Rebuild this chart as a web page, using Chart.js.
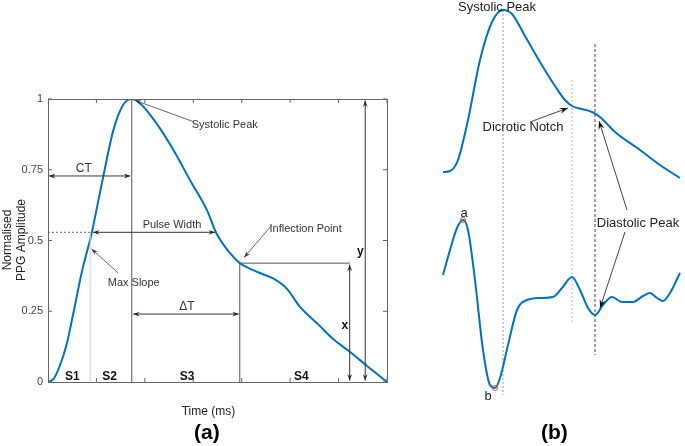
<!DOCTYPE html>
<html><head><meta charset="utf-8">
<script src="https://cdn.jsdelivr.net/npm/chart.js@4/dist/chart.umd.min.js"></script>
<style>
body{margin:0;background:#fff;width:685px;height:446px;position:relative;overflow:hidden;font-family:"Liberation Sans",Arial,sans-serif}
#ca{position:absolute;left:0;top:0}
#cb{position:absolute;left:430px;top:0}
.lab{position:absolute;font-weight:bold;font-size:21px;color:#000}
</style></head><body>
<canvas id="ca" width="430" height="446"></canvas>
<canvas id="cb" width="255" height="446"></canvas>
<div class="lab" style="left:194px;top:420px">(a)</div>
<div class="lab" style="left:541px;top:420px">(b)</div>
<script>
// Panel (a): normalised PPG pulse
const timeMs = [0,12,25,38,52,70,90,111,135,155,173,190,224,259,293,328,348,376,396,420,445,465,493,520,560,590,623,660,700];
const ppg    = [0,0.012,0.06,0.13,0.24,0.39,0.525,0.70,0.89,0.979,1.0,0.985,0.914,0.82,0.714,0.608,0.525,0.455,0.42,0.398,0.38,0.366,0.33,0.266,0.2,0.15,0.107,0.055,0];
const xTicks = [100,200,300,400,500,600,700];
const yTicks = [0,0.25,0.5,0.75,1];
// Panel (b): schematic PPG and its second derivative (no axes, drawing units)
const ppgBx = [443,450,458,468,480,492,503,512,525,540,555,565,572,582,592,600,615,640,660,680];
const ppgBy = [172,171,160,120,60,22,10,14,36,62,86,100,106,109,112,117,132,150,165,178];
const apgBx = [443,450,457,463,468,475,483,490,495,500,508,517,527,540,553,562,572,580,588,595,603,612,622,633,643,650,657,663,670,680];
const apgBy = [275,250,228,220,230,280,350,385,388,378,345,310,300,298,297,288,277,290,308,315,305,297,302,302,296,293,298,301,293,273];

const blue='rgb(0,114,189)';
const FONT='"Liberation Sans", Arial, sans-serif';

function arrowHead(ctx,x1,y1,x2,y2,size){
  const a=Math.atan2(y2-y1,x2-x1);
  ctx.beginPath();
  ctx.moveTo(x2,y2);
  ctx.lineTo(x2-size*Math.cos(a-0.35),y2-size*Math.sin(a-0.35));
  ctx.lineTo(x2-size*0.6*Math.cos(a),y2-size*0.6*Math.sin(a));
  ctx.lineTo(x2-size*Math.cos(a+0.35),y2-size*Math.sin(a+0.35));
  ctx.closePath();ctx.fill();
}
function arrow(ctx,x1,y1,x2,y2,both,size){
  ctx.beginPath();ctx.moveTo(x1,y1);ctx.lineTo(x2,y2);ctx.stroke();
  arrowHead(ctx,x1,y1,x2,y2,size||8);
  if(both) arrowHead(ctx,x2,y2,x1,y1,size||8);
}

const annA={id:'annA',afterDatasetsDraw(chart){
  const ctx=chart.ctx,x=chart.scales.x,y=chart.scales.y,a=chart.chartArea;
  const X=v=>x.getPixelForValue(v),Y=v=>y.getPixelForValue(v);
  ctx.save();
  ctx.strokeStyle='#666';ctx.lineWidth=1;
  ctx.strokeRect(a.left+0.5,a.top+0.5,a.right-a.left,a.bottom-a.top);
  ctx.beginPath();
  xTicks.forEach(t=>{const p=X(t);ctx.moveTo(p,a.bottom);ctx.lineTo(p,a.bottom-4);ctx.moveTo(p,a.top);ctx.lineTo(p,a.top+4);});
  yTicks.forEach(t=>{const p=Y(t);ctx.moveTo(a.left,p);ctx.lineTo(a.left+4,p);ctx.moveTo(a.right,p);ctx.lineTo(a.right-4,p);});
  ctx.stroke();
  ctx.strokeStyle='#555';ctx.fillStyle='#222';
  ctx.beginPath();ctx.moveTo(X(173),Y(0));ctx.lineTo(X(173),Y(1));ctx.stroke();
  ctx.beginPath();ctx.moveTo(X(396),Y(0));ctx.lineTo(X(396),Y(0.42));ctx.lineTo(X(623),Y(0.42));ctx.stroke();
  ctx.strokeStyle='#ccc';
  ctx.beginPath();ctx.moveTo(X(87),Y(0));ctx.lineTo(X(87),Y(0.526));ctx.stroke();
  ctx.strokeStyle='#666';ctx.setLineDash([2,2]);
  ctx.beginPath();ctx.moveTo(X(0),Y(0.529));ctx.lineTo(X(87),Y(0.529));ctx.stroke();
  ctx.setLineDash([]);
  ctx.strokeStyle='#333';
  arrow(ctx,X(2),Y(0.728),X(170),Y(0.728),true,7);
  arrow(ctx,X(93),Y(0.529),X(345),Y(0.529),true,7);
  arrow(ctx,X(176),Y(0.24),X(394),Y(0.24),true,7);
  arrow(ctx,X(623),Y(0.005),X(623),Y(0.415),true,7);
  arrow(ctx,X(655),Y(0.005),X(655),Y(0.995),true,7);
  ctx.strokeStyle='#666';ctx.fillStyle='#333';
  arrow(ctx,X(300),Y(0.92),X(180),Y(0.995),false,7);
  arrow(ctx,X(460),Y(0.55),X(405),Y(0.44),false,7);
  arrow(ctx,X(145),Y(0.385),X(90),Y(0.47),false,7);
  ctx.fillStyle='#333';ctx.font='11px '+FONT;ctx.textAlign='center';ctx.textBaseline='middle';
  ctx.fillText('Systolic Peak',X(365),Y(0.907));
  ctx.fillText('Inflection Point',X(532),Y(0.54));
  ctx.fillText('Max Slope',X(177),Y(0.35));
  ctx.fillText('Pulse Width',X(256),Y(0.555));
  ctx.font='12px '+FONT;
  ctx.fillText('CT',X(74),Y(0.755));
  ctx.fillText('\u0394T',X(287),Y(0.265));
  ctx.font='bold 12px '+FONT;ctx.fillStyle='#111';
  ctx.fillText('x',X(613),Y(0.2));
  ctx.fillText('y',X(645),Y(0.46));
  ctx.fillText('S1',X(50),Y(0.02));
  ctx.fillText('S2',X(127),Y(0.02));
  ctx.fillText('S3',X(287),Y(0.02));
  ctx.fillText('S4',X(523),Y(0.02));
  ctx.font='12px '+FONT;ctx.fillStyle='#222';
  ctx.fillText('Time (ms)',(a.left+a.right)/2-9,412);
  ctx.translate(15,240);ctx.rotate(-Math.PI/2);
  ctx.fillText('Normalised',0,-7);ctx.fillText('PPG Amplitude',0,7);
  ctx.restore();
}};

new Chart(document.getElementById('ca'),{
  type:'scatter',
  data:{datasets:[{data:timeMs.map((t,i)=>({x:t,y:ppg[i]})),showLine:true,borderColor:blue,borderWidth:2,pointRadius:0,cubicInterpolationMode:'monotone'}]},
  options:{responsive:false,animation:false,events:[],
    layout:{padding:{left:0,top:99,right:43,bottom:64}},
    plugins:{legend:{display:false},tooltip:{enabled:false}},
    scales:{
      x:{type:'linear',min:0,max:700,afterFit:s=>{s.height=0;},
        afterBuildTicks:s=>{s.ticks=xTicks.map(v=>({value:v}));},
        grid:{display:false,drawTicks:false},border:{display:false},
        ticks:{color:'#444',font:{family:FONT,size:11},padding:10}},
      y:{type:'linear',min:0,max:1,afterFit:s=>{s.width=48;},
        afterBuildTicks:s=>{s.ticks=yTicks.map(v=>({value:v}));},
        grid:{display:false,drawTicks:false},border:{display:false},
        ticks:{color:'#444',font:{family:FONT,size:11},padding:5,callback:v=>String(v)}}
    }},
  plugins:[annA]
});

const annB={id:'annB',beforeDatasetsDraw(chart){
  const ctx=chart.ctx,x=chart.scales.x,y=chart.scales.y;
  const X=v=>x.getPixelForValue(v),Y=v=>y.getPixelForValue(v);
  ctx.save();ctx.lineWidth=1;
  ctx.strokeStyle='#999';ctx.setLineDash([2,2]);
  ctx.beginPath();ctx.moveTo(X(503),Y(10));ctx.lineTo(X(503),Y(395));ctx.stroke();
  ctx.strokeStyle='#bbb';
  ctx.beginPath();ctx.moveTo(X(572),Y(80));ctx.lineTo(X(572),Y(322));ctx.stroke();
  ctx.strokeStyle='#444';ctx.setLineDash([3,2]);
  ctx.beginPath();ctx.moveTo(X(595),Y(44));ctx.lineTo(X(595),Y(355));ctx.stroke();
  ctx.restore();
},afterDatasetsDraw(chart){
  const ctx=chart.ctx,x=chart.scales.x,y=chart.scales.y;
  const X=v=>x.getPixelForValue(v),Y=v=>y.getPixelForValue(v);
  ctx.save();
  ctx.strokeStyle='#444';ctx.fillStyle='#111';ctx.lineWidth=1;
  arrow(ctx,X(530),Y(122),X(568),Y(108),false,9);
  arrow(ctx,X(627),Y(210),X(599),Y(121),false,9);
  arrow(ctx,X(625),Y(232),X(600),Y(308),false,9);
  ctx.strokeStyle='#e05050';
  ctx.beginPath();ctx.arc(X(463),Y(220),2.5,0,Math.PI*2);ctx.stroke();
  ctx.beginPath();ctx.arc(X(495),Y(388),2.5,0,Math.PI*2);ctx.stroke();
  ctx.fillStyle='#222';ctx.font='13px '+FONT;ctx.textAlign='center';ctx.textBaseline='middle';
  ctx.fillText('Systolic Peak',X(497),Y(7));
  ctx.fillText('Dicrotic Notch',X(523),Y(127));
  ctx.fillText('Diastolic Peak',X(638),Y(223));
  ctx.fillText('a',X(464),Y(213));
  ctx.fillText('b',X(488),Y(396));
  ctx.restore();
}};

new Chart(document.getElementById('cb'),{
  type:'scatter',
  data:{datasets:[
    {data:ppgBx.map((v,i)=>({x:v,y:ppgBy[i]})),showLine:true,borderColor:blue,borderWidth:2,pointRadius:0,cubicInterpolationMode:'monotone'},
    {data:apgBx.map((v,i)=>({x:v,y:apgBy[i]})),showLine:true,borderColor:blue,borderWidth:2,pointRadius:0,cubicInterpolationMode:'monotone'}]},
  options:{responsive:false,animation:false,events:[],
    layout:{padding:0},
    plugins:{legend:{display:false},tooltip:{enabled:false}},
    scales:{x:{type:'linear',min:430,max:685,display:false},y:{type:'linear',min:0,max:446,reverse:true,display:false}}},
  plugins:[annB]
});
</script></body></html>
